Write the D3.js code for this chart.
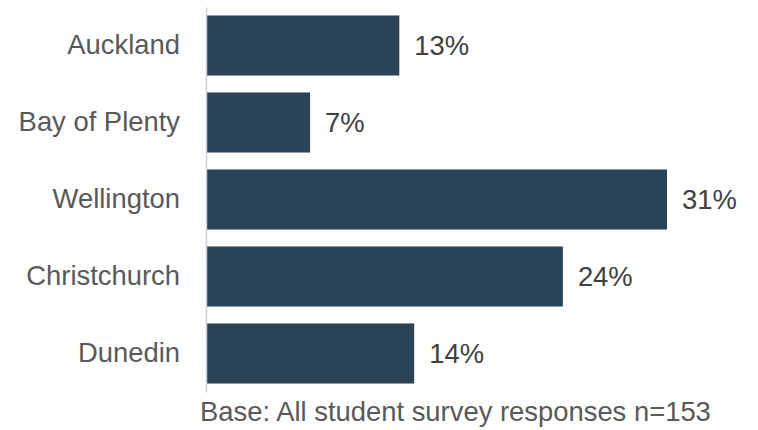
<!DOCTYPE html>
<html>
<head>
<meta charset="utf-8">
<script src="https://cdn.jsdelivr.net/npm/d3@7"></script>
<style>
  html, body { margin: 0; padding: 0; background: #ffffff; }
  svg { display: block; font-family: "Liberation Sans", Arial, sans-serif; }
</style>
</head>
<body>
<svg id="chart" width="758" height="430"></svg>
<script>
// Share of student survey responses by city
const regions = ["Auckland", "Bay of Plenty", "Wellington", "Christchurch", "Dunedin"];
const shares = [13, 7, 31, 24, 14];
const baseNote = "Base: All student survey responses n=153";

const W = 758, H = 430;
const margin = { top: 7, right: 90, bottom: 40, left: 206 };
const fontSize = 27.4;

const svg = d3.select("#chart");

const x = d3.scaleLinear()
  .domain([0, 31])
  .range([margin.left, margin.left + 461]);

const y = d3.scaleBand()
  .domain(regions)
  .range([margin.top, H - margin.bottom + 2])
  .paddingInner(0.22)
  .paddingOuter(0.11);

const data = regions.map((r, i) => ({ region: r, value: shares[i] }));

// bars
svg.append("g")
  .selectAll("rect")
  .data(data)
  .join("rect")
  .attr("x", x(0) + 1)
  .attr("y", d => y(d.region))
  .attr("width", d => x(d.value) - x(0) - 1)
  .attr("height", y.bandwidth())
  .attr("fill", "#2a4356");

// category axis
const yAxis = svg.append("g")
  .attr("transform", `translate(${margin.left},0)`)
  .call(d3.axisLeft(y).tickSize(0).tickPadding(26));
yAxis.select(".domain")
  .attr("stroke", "#d0d0d0")
  .attr("stroke-width", 1.5);
yAxis.selectAll("text")
  .attr("font-size", fontSize)
  .attr("fill", "#595959")
  .attr("font-family", "Liberation Sans, Arial, sans-serif");

// value labels
svg.append("g")
  .selectAll("text")
  .data(data)
  .join("text")
  .attr("x", d => x(d.value) + 15)
  .attr("y", d => y(d.region) + y.bandwidth() / 2)
  .attr("dy", "0.35em")
  .attr("font-size", fontSize)
  .attr("fill", "#404040")
  .text(d => d.value + "%");

// base note
svg.append("text")
  .attr("x", 200)
  .attr("y", 421)
  .attr("font-size", fontSize)
  .attr("fill", "#595959")
  .text(baseNote);
</script>
</body>
</html>
